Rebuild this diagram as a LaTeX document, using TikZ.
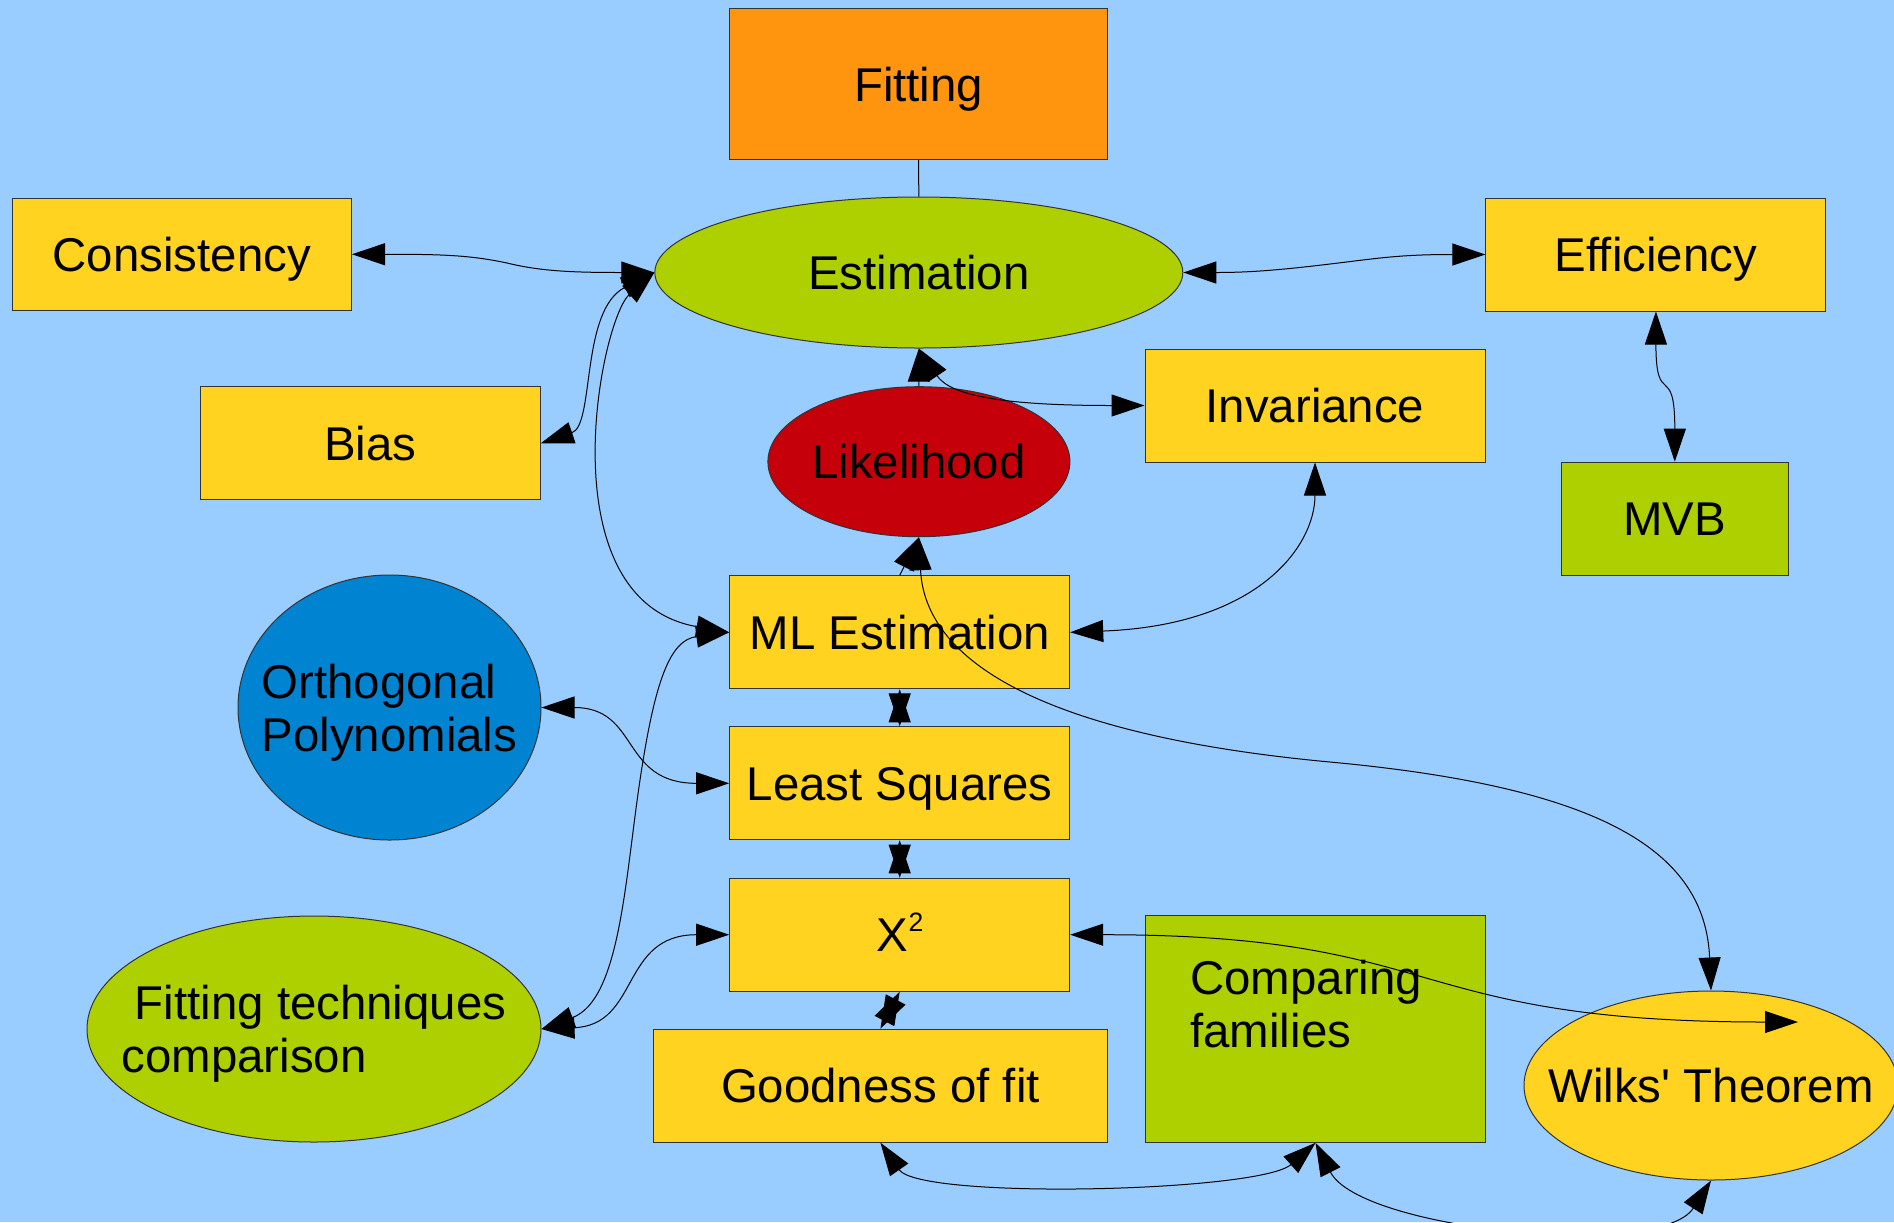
\documentclass[tikz,border=0pt]{standalone}
\usepackage{fontspec}
\setmainfont{Liberation Sans}
\usetikzlibrary{arrows.meta,shapes.geometric}
\definecolor{bg}{HTML}{99CCFF}
\definecolor{cyel}{HTML}{FFD320}
\definecolor{corange}{HTML}{FF950E}
\definecolor{cgreen}{HTML}{AECF00}
\definecolor{cred}{HTML}{C5000B}
\definecolor{cblue}{HTML}{0084D1}
\newcommand\dfont{\fontsize{23.7}{26.5}\selectfont}
\tikzset{
  shp/.style={draw=black!80, line width=0.5pt, inner sep=0pt, font=\dfont},
  one/.style={text height=21pt, text depth=4pt},
  rbox/.style={shp, one, rectangle, minimum width=170pt, minimum height=56.5pt},
  ell/.style={shp, ellipse, inner xsep=-40pt, inner ysep=0pt},
  conn/.style={draw=black, line width=0.5pt},
  both/.style={conn, <->},
  fwd/.style={conn, ->},
  >={Triangle[length=16.5pt,width=11pt]}
}
\begin{document}
\begin{tikzpicture}[x=0.5pt,y=-0.5pt]
\fill[bg] (0,0) rectangle (1894,1222);
\useasboundingbox (0,0) rectangle (1894,1222);

% nodes
\node[rbox, fill=corange, minimum width=189pt, minimum height=75.5pt] (fit) at (918.6,84) {Fitting};
\node[rbox, fill=cyel, minimum width=169.75pt, minimum height=56.25pt] (con) at (181.75,254.25) {Consistency};
\node[ell, one, fill=cgreen, minimum width=264pt, minimum height=75.5pt] (est) at (918.8,272.5) {Estimation};
\node[rbox, fill=cyel] (eff) at (1655.9,254.5) {Efficiency};
\node[rbox, fill=cyel] (bias) at (370.25,443.3) {Bias};
\node[rbox, fill=cyel] (inv) at (1315,405.5) {Invariance};
\node[ell, one, fill=cred, minimum width=151pt, minimum height=75pt] (lik) at (918.9,461.7) {Likelihood};
\node[rbox, fill=cgreen, minimum width=113.5pt] (mvb) at (1674.8,518.7) {MVB};
\node[rbox, fill=cyel] (ml) at (899.7,632.3) {ML Estimation};
\node[ell, fill=cblue, minimum width=151.5pt, minimum height=132.5pt, align=left, text depth=0pt] (orth) at (389.5,707.5) {Orthogonal\\Polynomials};
\node[rbox, fill=cyel] (ls) at (899.7,783.3) {Least Squares};
\node[rbox, fill=cyel] (x2) at (899.7,934.7) {X\kern0.5pt\raisebox{10pt}{\fontsize{13.3}{14}\selectfont 2}};
\node[ell, fill=cgreen, minimum width=227pt, minimum height=113pt, align=left, text depth=0pt] (ftc) at (314,1029) {\hspace*{0.278em}Fitting techniques\\comparison};
\node[rbox, fill=cgreen, minimum height=113.5pt] (cf) at (1315.5,1028.8) {};
\node[anchor=north west, inner sep=0pt, font=\dfont, align=left] (cftext) at (1190,960) {Comparing\\families};
\node[rbox, fill=cyel, minimum width=226.6pt] (gof) at (880.4,1085.7) {Goodness of fit};
\node[ell, one, fill=cyel, minimum width=187pt, minimum height=94.5pt] (wilks) at (1711,1085.5) {Wilks\textquotesingle\ Theorem};
\coordinate (wk) at (1798,1022);

% connectors
\draw[conn] (fit.south) -- (est.north);
\draw[both] (con.east) .. controls (440,254.25) and (470,255) .. (507,263) .. controls (540,271) and (570,272.5) .. (est.west);
\draw[both] (bias.east) .. controls (595,425) and (580,310) .. (est.west);
\draw[both] (est.west) .. controls (600,320) and (545,600) .. (ml.west);
\draw[both] (est.east) .. controls (1250,272.5) and (1280,270) .. (1330,264) .. controls (1380,258) and (1400,254.5) .. (eff.west);
\draw[both] (eff.south) .. controls (1655.9,410) and (1674.8,360) .. (mvb.north);
\draw[fwd] (lik) -- (est);
\draw[both] (est.south) .. controls (950,395) and (1000,405.5) .. (inv.west);
\draw[fwd] (ml.north) -- (lik.south);
\draw[both] (lik.south) .. controls (925,660) and (1040,735) .. (1330,762) .. controls (1600,787) and (1705,850) .. (wilks.north);
\draw[both] (ml.east) .. controls (1260,625) and (1315,545) .. (inv.south);
\draw[both] (ml) -- (ls);
\draw[both] (ls) -- (x2);
\draw[both] (x2.south) -- (gof.north);
\draw[both] (orth.east) .. controls (640,707.5) and (620,783.3) .. (ls.west);
\draw[both] (ftc.east) .. controls (640,1025) and (620,934.7) .. (x2.west);
\draw[both] (ftc.east) .. controls (620,1000) and (625,880) .. (640,780) .. controls (655,680) and (670,640) .. (ml.west);
\draw[both] (x2.east) .. controls (1450,934.7) and (1400,1022) .. (wk);
\draw[both] (gof.south) .. controls (920,1200) and (1260,1192) .. (cf.south);
\draw[both] (cf.south) .. controls (1360,1230) and (1660,1260) .. (wilks.south);
\end{tikzpicture}
\end{document}
